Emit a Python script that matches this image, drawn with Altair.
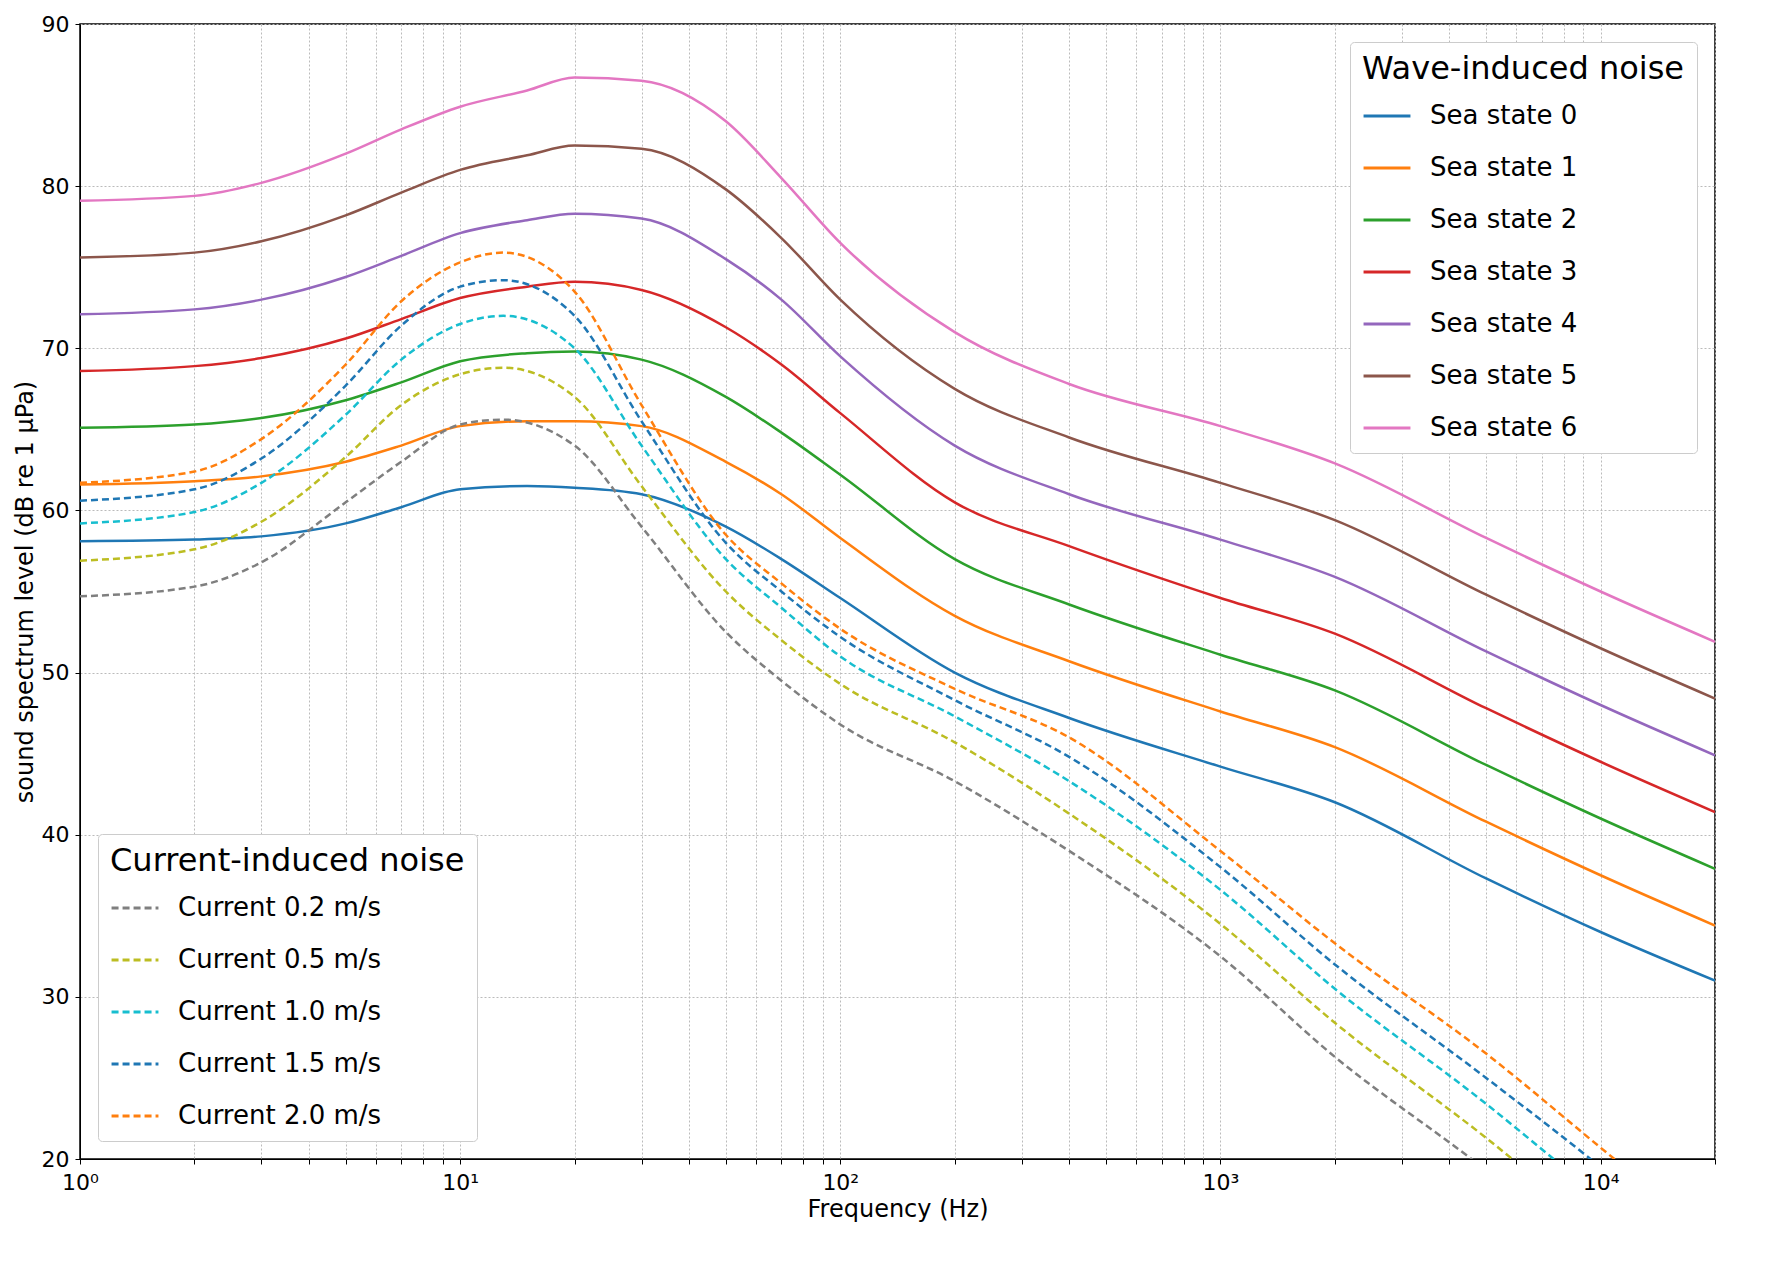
import altair as alt
import pandas as pd

sea_freq = [1, 2, 3, 5, 7, 10, 15, 20, 30, 50, 70, 100, 200, 400, 1000, 2000, 5000, 10000, 20000]
sea_states = {
    "Sea state 0": [58.1, 58.2, 58.4, 59.2, 60.2, 61.3, 61.5, 61.4, 61.0, 59.0, 57.0, 54.6, 50.0, 47.2, 44.2, 42.0, 37.3, 34.0, 31.0],
    "Sea state 1": [61.6, 61.8, 62.1, 63.0, 64.0, 65.2, 65.5, 65.5, 65.2, 63.0, 61.0, 58.3, 53.5, 50.7, 47.6, 45.4, 40.8, 37.5, 34.4],
    "Sea state 2": [65.1, 65.3, 65.7, 66.8, 67.9, 69.2, 69.7, 69.8, 69.3, 67.0, 64.8, 62.2, 57.0, 54.2, 51.1, 48.9, 44.3, 41.0, 37.9],
    "Sea state 3": [68.6, 68.9, 69.4, 70.6, 71.8, 73.1, 73.8, 74.1, 73.6, 71.3, 69.0, 66.0, 60.5, 57.8, 54.6, 52.4, 47.8, 44.5, 41.4],
    "Sea state 4": [72.1, 72.4, 73.0, 74.4, 75.7, 77.1, 77.9, 78.3, 78.0, 75.5, 73.0, 69.5, 64.0, 61.0, 58.2, 55.9, 51.3, 48.0, 44.9],
    "Sea state 5": [75.6, 75.9, 76.6, 78.2, 79.6, 81.0, 81.9, 82.5, 82.3, 79.8, 76.8, 73.0, 67.5, 64.5, 61.7, 59.4, 54.8, 51.5, 48.4],
    "Sea state 6": [79.1, 79.4, 80.2, 82.0, 83.5, 84.9, 85.9, 86.7, 86.5, 84.0, 80.5, 76.5, 71.0, 67.8, 65.2, 62.9, 58.3, 55.0, 51.9],
}
sea_colors = ["#1f77b4", "#ff7f0e", "#2ca02c", "#d62728", "#9467bd", "#8c564b", "#e377c2"]

cur_freq = [1, 2, 3, 5, 7, 10, 13, 20, 30, 50, 70, 100, 200, 400, 1000, 2000, 5000, 10000, 20000]
currents = {
    "Current 0.2 m/s": [54.7, 55.3, 56.8, 60.5, 63.0, 65.3, 65.6, 64.0, 59.0, 52.5, 49.5, 46.8, 43.3, 39.0, 32.5, 26.3, 19.3, 13.5, 7.8],
    "Current 0.5 m/s": [56.9, 57.6, 59.3, 63.3, 66.5, 68.4, 68.8, 67.0, 61.5, 55.0, 52.0, 49.3, 45.7, 41.3, 34.5, 28.4, 21.3, 15.5, 9.7],
    "Current 1.0 m/s": [59.2, 59.9, 61.7, 65.9, 69.3, 71.5, 72.0, 70.0, 64.0, 57.0, 54.0, 51.0, 47.3, 43.3, 36.6, 30.5, 23.4, 17.6, 11.8],
    "Current 1.5 m/s": [60.6, 61.3, 63.2, 67.7, 71.4, 73.8, 74.2, 72.0, 65.5, 58.0, 55.0, 52.2, 48.3, 44.8, 38.0, 32.0, 25.0, 19.5, 13.5],
    "Current 2.0 m/s": [61.7, 62.4, 64.4, 69.0, 72.9, 75.3, 75.9, 73.5, 66.5, 58.5, 55.5, 52.7, 49.0, 46.0, 39.0, 33.3, 26.5, 20.7, 14.9],
}
cur_colors = ["#7f7f7f", "#bcbd22", "#17becf", "#1f77b4", "#ff7f0e"]

sea_df = pd.DataFrame(
    [{"f": f, "L": v, "name": k} for k, vals in sea_states.items() for f, v in zip(sea_freq, vals)]
)
cur_df = pd.DataFrame(
    [{"f": f, "L": v, "name": k} for k, vals in currents.items() for f, v in zip(cur_freq, vals)]
)

label_expr = ("datum.value == 1 ? '10⁰' : datum.value == 10 ? '10¹' : datum.value == 100 ? '10²' : "
              "datum.value == 1000 ? '10³' : datum.value == 10000 ? '10⁴' : ''")

x = alt.X("f:Q", title="Frequency (Hz)",
          scale=alt.Scale(type="log", domain=[1, 20000], nice=False),
          axis=alt.Axis(values=[a * 10 ** b for b in range(5) for a in range(1, 10) if a * 10 ** b <= 20000],
                        labelExpr=label_expr, gridDash=[2, 2], gridColor="#bbbbbb",
                        labelPadding=8, labelFlush=False))
y = alt.Y("L:Q", title="sound spectrum level (dB re 1 μPa)",
          scale=alt.Scale(domain=[20, 90], nice=False),
          axis=alt.Axis(values=list(range(20, 91, 10)), gridDash=[2, 2], gridColor="#bbbbbb",
                        labelPadding=6, labelFlush=False))

legend_common = dict(titleFontSize=32, labelFontSize=26, titleFontWeight="normal",
                     symbolType="stroke", symbolSize=2200, symbolStrokeWidth=3,
                     labelLimit=0, titleLimit=0, labelOffset=18,
                     fillColor="white", strokeColor="#cccccc", padding=12, rowPadding=14,
                     titleFont="DejaVu Sans", labelFont="DejaVu Sans", cornerRadius=4)

sea = alt.Chart(sea_df).mark_line(strokeWidth=2.5, clip=True, interpolate="monotone").encode(
    x=x, y=y,
    color=alt.Color("name:N", scale=alt.Scale(domain=list(sea_states), range=sea_colors),
                    legend=alt.Legend(title="Wave-induced noise", orient="top-right", **legend_common)),
)
cur = alt.Chart(cur_df).mark_line(strokeWidth=2.5, clip=True, interpolate="monotone",
                                   strokeDash=[7, 4]).encode(
    x=x, y=y,
    color=alt.Color("name:N", scale=alt.Scale(domain=list(currents), range=cur_colors),
                    legend=alt.Legend(title="Current-induced noise", orient="bottom-left",
                                      symbolDash=[7, 4], **legend_common)),
)

chart = alt.layer(sea, cur).resolve_scale(color="independent").properties(
    width=1635, height=1135
).configure_axis(
    labelFontSize=22, titleFontSize=24, titleFontWeight="normal",
    labelFont="DejaVu Sans", titleFont="DejaVu Sans", domainColor="black",
    tickColor="black", labelColor="black", titleColor="black",
).configure_view(stroke="black", strokeWidth=1.5)

chart.save("out.html", embed_options={"renderer": "svg", "actions": False})
